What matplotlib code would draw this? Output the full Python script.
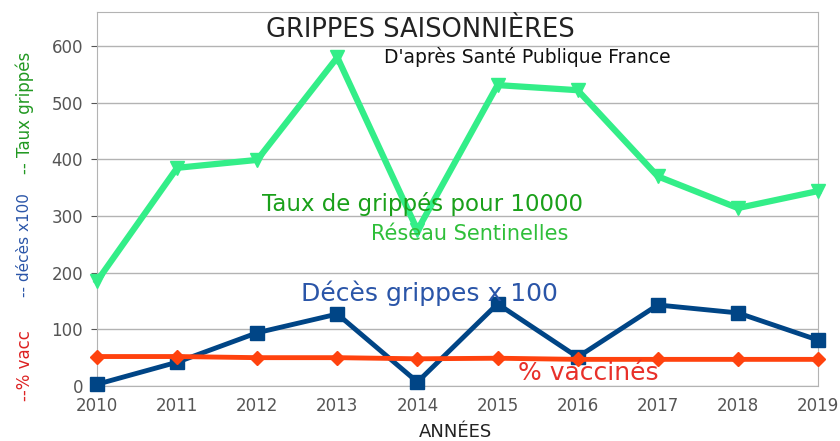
import matplotlib.pyplot as plt
import numpy as np

years = [2010, 2011, 2012, 2013, 2014, 2015, 2016, 2017, 2018, 2019]
taux_grippes = [185, 385, 399, 580, 275, 531, 522, 370, 314, 344]
deces_x100 = [3, 42, 94, 127, 7, 145, 51, 143, 129, 81]
pct_vacc = [52, 52, 50, 50, 48, 49, 47, 47, 47, 47]
yticks = [0, 100, 200, 300, 400, 500, 600]


def main():
    fig = plt.figure(figsize=(8.4, 4.41), dpi=100)
    ax = fig.add_axes([97 / 840, 1 - 386 / 441, 721 / 840, 374 / 441])

    ax.plot(years, taux_grippes, color='#33ee88', lw=4.5, marker='v', ms=10,
            zorder=3, clip_on=False)
    ax.plot(years, deces_x100, color='#004586', lw=3.5, marker='s', ms=10,
            zorder=4, clip_on=False)
    ax.plot(years, pct_vacc, color='#ff420e', lw=3.5, marker='D', ms=7,
            zorder=5, clip_on=False)

    ax.set_xlim(2010, 2019)
    ax.set_ylim(0, 660)
    ax.set_xticks(years)
    ax.set_yticks(yticks)
    ax.tick_params(labelsize=12, colors='#555555', length=4, width=0.8)
    ax.tick_params(axis='x', pad=8, length=0)
    ax.tick_params(axis='y', pad=6)
    ax.grid(axis='y', color='#b3b3b3', lw=1)
    ax.set_axisbelow(True)
    for s in ax.spines.values():
        s.set_color('#b3b3b3')

    def ftext(px, py, s, **kw):
        fig.text(px / 840, 1 - py / 441, s, ha='center', va='center', **kw)

    ftext(420, 30, 'GRIPPES SAISONNIÈRES', fontsize=18.5, color='#222222')
    ftext(527, 57, "D'après Santé Publique France", fontsize=13.5, color='#111111')
    ftext(423, 204, 'Taux de grippés pour 10000', fontsize=16.5, color='#1aa01a')
    ftext(470, 234, 'Réseau Sentinelles', fontsize=15, color='#2fbf3a')
    ftext(429, 293, 'Décès grippes x 100', fontsize=18, color='#2a55a8')
    ftext(588, 373, '% vaccinés', fontsize=18, color='#e8302a')
    ftext(455, 432, 'ANNÉES', fontsize=13, color='#222222')

    ftext(25, 366, '--% vacc', fontsize=12, color='#dd2222', rotation=90)
    ftext(25, 245, '-- décès x100', fontsize=11, color='#2a55a8', rotation=90)
    ftext(25, 113, '-- Taux grippés', fontsize=12, color='#229922', rotation=90)

    fig.savefig('out.png', dpi=100)


if __name__ == "__main__":
    plt.rcdefaults()
    main()
